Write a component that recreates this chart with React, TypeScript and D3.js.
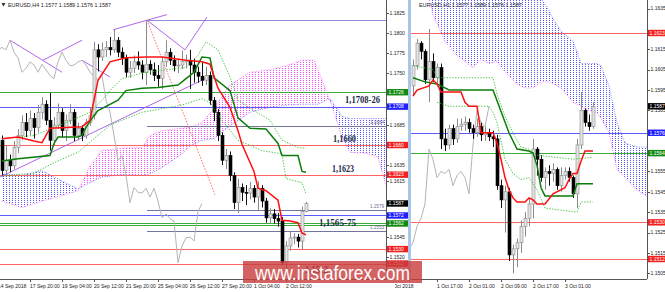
import React from "react";
import * as d3 from "d3";

// ---------------- LEFT PANEL (EURUSD, H4) ----------------
const leftTitle = "EURUSD,H4  1.1577 1.1589 1.1576 1.1587";
const leftFirstOpen = 1.1666;
const leftClose = [
  1.1628, 1.1641, 1.1634, 1.1657, 1.1672, 1.1688, 1.1678, 1.1693, 1.1682, 1.1701,
  1.1711, 1.1691, 1.1666, 1.1685, 1.1701, 1.1678, 1.1691, 1.1701, 1.1672, 1.1681,
  1.1672, 1.1688, 1.1697, 1.1779, 1.177, 1.1779, 1.1782, 1.1779, 1.1791, 1.1776,
  1.1769, 1.1751, 1.1756, 1.1764, 1.176, 1.1751, 1.1761, 1.1754, 1.1747, 1.1743,
  1.1764, 1.1776, 1.1766, 1.1759, 1.176, 1.1764, 1.1766, 1.176, 1.1751, 1.1746,
  1.1741, 1.1747, 1.1716, 1.1701, 1.1672, 1.1641, 1.1647, 1.1622, 1.1588, 1.1607,
  1.1601, 1.16, 1.1606, 1.1595, 1.1606, 1.159, 1.1569, 1.1574, 1.1568, 1.1565,
  1.1513, 1.1534, 1.1544, 1.1545, 1.154, 1.1577, 1.1587,
];
const leftHigh = [
  1.1672, 1.166, 1.1648, 1.1665, 1.168, 1.1697, 1.17, 1.1703, 1.17, 1.171,
  1.172, 1.1716, 1.1725, 1.1695, 1.1712, 1.1706, 1.1698, 1.1711, 1.1705, 1.1688,
  1.1685, 1.1693, 1.1707, 1.1789, 1.1786, 1.1788, 1.179, 1.1795, 1.1805, 1.1795,
  1.1782, 1.1773, 1.1765, 1.1772, 1.1777, 1.1766, 1.1816, 1.1766, 1.1763, 1.176,
  1.177, 1.1791, 1.1781, 1.1772, 1.1768, 1.1778, 1.1773, 1.1779, 1.1768, 1.1758,
  1.1763, 1.1758, 1.1752, 1.172, 1.1705, 1.1676, 1.1655, 1.1652, 1.1626, 1.1618,
  1.1612, 1.161, 1.1614, 1.161, 1.1615, 1.161, 1.1594, 1.1581, 1.158, 1.1575,
  1.157, 1.154, 1.1552, 1.155, 1.1549, 1.1583, 1.1589,
];
const leftLow = [
  1.1622, 1.1622, 1.1626, 1.163, 1.165, 1.1666, 1.167, 1.1672, 1.1668, 1.1676,
  1.1692, 1.1685, 1.1653, 1.166, 1.168, 1.167, 1.1665, 1.1686, 1.1665, 1.1666,
  1.1665, 1.1668, 1.1684, 1.1692, 1.1752, 1.1765, 1.177, 1.1772, 1.1775, 1.177,
  1.176, 1.1745, 1.1744, 1.175, 1.1754, 1.1742, 1.1735, 1.1748, 1.174, 1.1733,
  1.173, 1.1758, 1.176, 1.1752, 1.175, 1.1755, 1.1756, 1.173, 1.1738, 1.1738,
  1.1734, 1.1735, 1.171, 1.169, 1.1665, 1.1635, 1.163, 1.1615, 1.158, 1.1575,
  1.159, 1.1585, 1.1592, 1.1588, 1.1578, 1.1582, 1.1563, 1.1562, 1.1562, 1.1558,
  1.151, 1.1502, 1.1528, 1.1536, 1.1532, 1.153, 1.1576,
];
const leftTenkanIdx = [0, 4, 8, 10, 12, 20, 22, 23, 24, 27, 31, 36, 40, 46, 50, 52, 54, 57, 59, 60, 63, 64, 66, 69, 70, 72, 74, 75, 76];
const leftTenkanVal = [1.1668, 1.167, 1.1665, 1.1663, 1.1681, 1.1683, 1.1691, 1.1716, 1.1741, 1.1764, 1.1769, 1.177, 1.177, 1.1766, 1.1764, 1.1761, 1.1731, 1.1707, 1.1678, 1.1661, 1.1627, 1.1606, 1.1603, 1.1591, 1.1566, 1.1565, 1.1563, 1.155, 1.1548];
const leftKijunIdx = [0, 4, 12, 13, 14, 19, 20, 21, 23, 24, 29, 31, 35, 39, 44, 46, 48, 50, 52, 53, 57, 59, 62, 66, 69, 70, 74, 75, 76];
const leftKijunVal = [1.164, 1.1643, 1.1647, 1.1662, 1.167, 1.167, 1.1672, 1.1682, 1.1697, 1.1703, 1.1716, 1.1728, 1.1731, 1.1732, 1.1735, 1.1743, 1.1751, 1.177, 1.1769, 1.1744, 1.1728, 1.1694, 1.1681, 1.168, 1.1662, 1.1647, 1.1647, 1.1627, 1.1626];
const leftUpperDotIdx = [0, 8, 16, 22, 25, 27, 30, 35, 41, 46, 49, 51, 54, 57, 59, 63, 67, 70, 74, 76];
const leftUpperDotVal = [1.1668, 1.1672, 1.1688, 1.1701, 1.1716, 1.1728, 1.1743, 1.175, 1.1754, 1.1757, 1.1772, 1.1789, 1.1779, 1.1745, 1.1716, 1.1703, 1.1691, 1.1666, 1.1657, 1.1656];
const leftLowerDotIdx = [0, 8, 13, 19, 23, 27, 35, 45, 50, 52, 55, 59, 65, 70, 71, 75, 76];
const leftLowerDotVal = [1.1621, 1.1625, 1.1638, 1.1651, 1.1668, 1.1685, 1.1701, 1.171, 1.1718, 1.1713, 1.1691, 1.1666, 1.1653, 1.1649, 1.1618, 1.1613, 1.1599];
const leftCloudIdx = [0, 5, 10, 15, 19, 22, 25, 30, 35, 37, 40, 45, 47, 50, 53, 57, 62, 67, 71, 75, 78, 79, 82, 85, 87, 91, 94, 96];
const leftSpanA = [1.1624, 1.1622, 1.1628, 1.1615, 1.1605, 1.1613, 1.162, 1.1623, 1.1622, 1.1624, 1.1632, 1.1649, 1.1659, 1.1666, 1.1668, 1.1684, 1.1701, 1.1707, 1.171, 1.1711, 1.1711, 1.1711, 1.1718, 1.1696, 1.1693, 1.1693, 1.1693, 1.1693];
const leftSpanB = [1.159, 1.1582, 1.159, 1.1597, 1.1603, 1.1634, 1.1653, 1.1656, 1.1657, 1.1672, 1.1678, 1.1681, 1.1682, 1.1688, 1.1706, 1.1735, 1.1751, 1.1754, 1.1759, 1.1766, 1.1766, 1.1754, 1.1716, 1.167, 1.1651, 1.165, 1.1645, 1.1609];
const leftLevelPrice = [1.1726, 1.1708, 1.166, 1.1623, 1.1572, 1.1562, 1.156, 1.153, 1.1512];
const leftLevelKind = ["green", "blue", "red", "red", "blue", "green", "green", "red", "red"];
const leftRayStart = 36.25;
const leftRayPrice = [1.1816, 1.1684, 1.1579, 1.1553];
const leftRayLabel = ["", "1.1684", "1.1579", "1.1553"];
const leftTrendFromIdx = [2, 10.25, 20, 27.75, 36.25, 45.75, -0.5];
const leftTrendFromVal = [1.1791, 1.1766, 1.1766, 1.1804, 1.1816, 1.1779, 1.162];
const leftTrendToIdx = [15, 20, 27, 41.25, 45.75, 51.25, 51.25];
const leftTrendToVal = [1.1751, 1.1791, 1.1745, 1.1823, 1.1779, 1.182, 1.1744];
const leftFanIdx = [36.25, 53.25];
const leftFanVal = [1.1816, 1.1598];
const leftTickVals = [1.1825, 1.18, 1.1775, 1.175, 1.1685, 1.1635, 1.1615, 1.1545, 1.152];
const leftBoxPrice = [1.1726, 1.1708, 1.166, 1.1623, 1.1587, 1.1572, 1.1562, 1.153, 1.1512];
const leftBoxText = ["1.1726", "1.1708", "1.1660", "1.1623", "1.1587", "1.1572", "1.1562", "1.1530", "1.1512"];
const leftBoxKind = ["green", "blue", "red", "red", "black", "blue", "green", "red", "red"];
const leftDateIdx = [-1, 7, 15, 23, 31, 39, 47, 55, 63, 71];
const leftDateText = ["14 Sep 2018", "17 Sep 20:00", "19 Sep 04:00", "20 Sep 12:00", "21 Sep 20:00", "25 Sep 04:00", "26 Sep 12:00", "27 Sep 20:00", "1 Oct 04:00", "2 Oct 12:00"];
const noteText = ["1,1708-26", "1,1660", "1,1623", "1,1565-75", "1,1512"];
const notePrice = [1.1708, 1.166, 1.1623, 1.1572, 1.1512];
const noteBar = [85.75, 82.75, 82.5, 79.25, 75.75];

// ---------------- RIGHT PANEL (EURUSD, H1) ----------------
const rightTitle = "EURUSD,H1  1.1577 1.1589 1.1576 1.1587";
const rightFirstOpen = 1.1597;
const rightClose = [
  1.1607, 1.1618, 1.1614, 1.16, 1.1609, 1.1601, 1.1606, 1.1571, 1.1568, 1.1576,
  1.1571, 1.1577, 1.1578, 1.1579, 1.1576, 1.1574, 1.1577, 1.1573, 1.1574, 1.1572,
  1.1571, 1.1548, 1.1541, 1.1545, 1.1514, 1.1517, 1.152, 1.1528, 1.1532, 1.1539,
  1.1566, 1.1561, 1.1552, 1.1555, 1.1554, 1.1556, 1.1548, 1.1553, 1.1555, 1.1552,
  1.1544, 1.1568, 1.1585, 1.1579, 1.1577, 1.1587,
];
const rightHigh = [
  1.161, 1.162, 1.1619, 1.1615, 1.1625, 1.1613, 1.1608, 1.1608, 1.1576, 1.1578,
  1.1578, 1.1581, 1.1581, 1.1582, 1.1581, 1.1578, 1.1581, 1.1579, 1.1577, 1.1576,
  1.1575, 1.1573, 1.1551, 1.1548, 1.1547, 1.1519, 1.1522, 1.1531, 1.1535, 1.1542,
  1.1571, 1.1567, 1.1563, 1.1557, 1.1558, 1.1559, 1.1557, 1.1557, 1.1557, 1.1557,
  1.1553, 1.1571, 1.1594, 1.1586, 1.1583, 1.1589,
];
const rightLow = [
  1.1592, 1.1605, 1.161, 1.1598, 1.1589, 1.1599, 1.1598, 1.1566, 1.1565, 1.1566,
  1.1568, 1.1569, 1.1575, 1.1575, 1.1574, 1.1571, 1.1572, 1.157, 1.157, 1.157,
  1.1567, 1.1546, 1.1537, 1.1525, 1.1511, 1.1505, 1.1508, 1.1515, 1.1523, 1.1528,
  1.1532, 1.1553, 1.155, 1.1546, 1.1548, 1.155, 1.1546, 1.1545, 1.1551, 1.155,
  1.1542, 1.1537, 1.1566, 1.1577, 1.1575, 1.1576,
];
const rightTenkanIdx = [0, 1, 4, 5, 6, 7, 12, 13, 14, 16, 17, 20, 21, 22, 23, 24, 25, 26, 28, 29, 30, 31, 33, 35, 38, 39, 40, 41, 42, 43, 45];
const rightTenkanVal = [1.1592, 1.1595, 1.1597, 1.16, 1.1598, 1.1594, 1.1594, 1.1589, 1.1587, 1.1587, 1.1574, 1.1574, 1.1569, 1.1561, 1.1552, 1.1546, 1.1542, 1.154, 1.154, 1.1542, 1.1541, 1.1539, 1.1539, 1.1544, 1.1547, 1.1551, 1.1554, 1.1554, 1.156, 1.1565, 1.1565];
const rightKijunIdx = [0, 3, 6, 9, 20, 24, 26, 29, 30, 31, 32, 33, 34, 40, 41, 45];
const rightKijunVal = [1.1601, 1.1599, 1.1598, 1.1595, 1.1595, 1.1574, 1.1566, 1.1565, 1.1564, 1.1558, 1.1547, 1.1543, 1.1543, 1.1543, 1.1549, 1.1549];
const rightUpperDotIdx = [0, 5, 6, 20, 21, 23, 25, 27, 29, 31, 40, 45];
const rightUpperDotVal = [1.1607, 1.1605, 1.1601, 1.1601, 1.1593, 1.1582, 1.1574, 1.1567, 1.1566, 1.1563, 1.1561, 1.1562];
const rightLowerDotIdx = [6, 9, 19, 20, 21, 23, 25, 27, 29, 31, 33, 41, 42, 45];
const rightLowerDotVal = [1.1589, 1.1587, 1.1587, 1.1584, 1.1579, 1.1561, 1.1554, 1.1551, 1.1552, 1.1546, 1.1537, 1.1535, 1.154, 1.154];
const rightCloudIdx = [0, 2, 4, 5, 8, 11, 13, 15, 17, 19, 21, 23, 26, 28, 30, 32, 34, 35, 37, 40, 42, 44, 46, 47, 49, 51, 53, 56, 59];
const rightSpanA = [1.167, 1.1669, 1.1668, 1.1667, 1.1665, 1.1663, 1.1661, 1.166, 1.1658, 1.1657, 1.1655, 1.1654, 1.1652, 1.1651, 1.165, 1.164, 1.1634, 1.163, 1.1624, 1.1619, 1.1608, 1.1608, 1.1608, 1.1607, 1.1597, 1.1579, 1.1569, 1.1567, 1.1567];
const rightSpanB = [1.166, 1.165, 1.164, 1.1632, 1.1619, 1.1612, 1.1609, 1.1606, 1.161, 1.1608, 1.1609, 1.1604, 1.1598, 1.1596, 1.1596, 1.1599, 1.1599, 1.1598, 1.1596, 1.1589, 1.1587, 1.1585, 1.1584, 1.1581, 1.1574, 1.1556, 1.1552, 1.1546, 1.1542];
const rightLevelPrice = [1.1623, 1.1574, 1.1564, 1.153, 1.1512];
const rightLevelKind = ["red", "blue", "green", "red", "red"];
const rightTickVals = [1.1635, 1.1615, 1.1605, 1.1595, 1.1585, 1.1555, 1.1545, 1.1535, 1.1525, 1.1515, 1.1505];
const rightBoxPrice = [1.1623, 1.1587, 1.1574, 1.1564, 1.153, 1.1512];
const rightBoxText = ["1.1623", "1.1587", "1.1576", "1.1564", "1.1530", "1.1512"];
const rightBoxKind = ["red", "black", "blue", "green", "red", "red"];
const rightDateIdx = [-6, 6, 14, 22, 30, 38];
const rightDateText = ["1 Oct 2018", "1 Oct 17:00", "2 Oct 01:00", "2 Oct 09:00", "2 Oct 17:00", "3 Oct 01:00"];

// ---------------- styling ----------------
const LINE: Record<string, string> = { red: "#ff6464", green: "#3aac3a", blue: "#5b5bff" };
const BOX: Record<string, string> = { red: "#f2201e", green: "#128a12", blue: "#1f1fff", black: "#000000" };
const SANS = "'Liberation Sans', Arial, sans-serif";

type Pt = [number, number];
const zip = (a: number[], b: number[]): Pt[] => a.map((v, k) => [v, b[k]] as Pt);

function Panel({ cfg }: { cfg: any }) {
  const { id, left, right, bottom, x, y } = cfg;
  const line = d3.line<Pt>().x((d) => x(d[0])).y((d) => y(d[1]));
  const opens: number[] = cfg.close.map((c: number, k: number) => (k === 0 ? cfg.firstOpen : cfg.close[k - 1]));
  const cloudPts = cfg.cloudIdx.map((t: number, k: number) => ({ t, a: cfg.spanA[k], b: cfg.spanB[k] }));
  const belowA = d3.area<any>().x((d) => x(d.t)).y0((d) => y(d.a)).y1(1000);
  const aboveB = d3.area<any>().x((d) => x(d.t)).y0(-1000).y1((d) => y(d.b));
  const belowB = d3.area<any>().x((d) => x(d.t)).y0((d) => y(d.b)).y1(1000);
  const aboveA = d3.area<any>().x((d) => x(d.t)).y0(-1000).y1((d) => y(d.a));
  const chikou: Pt[] = cfg.close.map((c: number, k: number) => [k - 26, c] as Pt).filter((d: Pt) => d[0] >= -2);

  return (
    <g>
      <defs>
        <clipPath id={`${id}-plot`}>
          <rect x={left} y={0} width={right - left} height={bottom} />
        </clipPath>
        <clipPath id={`${id}-ca`}>
          <path d={belowA(cloudPts) || ""} />
        </clipPath>
        <clipPath id={`${id}-cb`}>
          <path d={belowB(cloudPts) || ""} />
        </clipPath>
        <clipPath id={`${id}-dates`}>
          <rect x={cfg.dateClipLeft} y={0} width={665} height={292} />
        </clipPath>
      </defs>
      <g clipPath={`url(#${id}-plot)`}>
        <path d={aboveB(cloudPts) || ""} fill="url(#dotBlue)" clipPath={`url(#${id}-ca)`} />
        <path d={aboveA(cloudPts) || ""} fill="url(#dotPink)" clipPath={`url(#${id}-cb)`} />
        <path d={line(zip(cfg.cloudIdx, cfg.spanA)) || ""} fill="none" stroke="#6b6bff" strokeWidth={0.8} strokeDasharray="1 1.4" />
        <path d={line(zip(cfg.cloudIdx, cfg.spanB)) || ""} fill="none" stroke="#ff55ff" strokeWidth={0.8} strokeDasharray="1 1.4" />

        {cfg.levelPrice.map((p: number, k: number) => (
          <line key={`lv${k}`} x1={left} x2={right} y1={Math.round(y(p)) + 0.5} y2={Math.round(y(p)) + 0.5} stroke={LINE[cfg.levelKind[k]]} strokeWidth={1} />
        ))}

        {(cfg.rayPrice || []).map((p: number, k: number) => (
          <g key={`ray${k}`}>
            <line x1={x(cfg.rayStart)} x2={right} y1={Math.round(y(p)) + 0.5} y2={Math.round(y(p)) + 0.5} stroke={k === 0 ? "#8c8cd8" : "#74749c"} strokeWidth={1} />
            {cfg.rayLabel[k] ? (
              <text x={right - 2} y={y(p) - 1.5} fontSize={4.6} fill="#6a6a90" textAnchor="end" fontFamily={SANS}>
                {cfg.rayLabel[k]}
              </text>
            ) : null}
          </g>
        ))}

        {(cfg.trendFromIdx || []).map((t: number, k: number) => (
          <line key={`tr${k}`} x1={x(t)} y1={y(cfg.trendFromVal[k])} x2={x(cfg.trendToIdx[k])} y2={y(cfg.trendToVal[k])} stroke="#b066ee" strokeWidth={1} />
        ))}
        {cfg.fanIdx ? (
          <path d={line(zip(cfg.fanIdx, cfg.fanVal)) || ""} fill="none" stroke="#ff6a6a" strokeWidth={1} strokeDasharray="1.5 1.5" />
        ) : null}

        <path d={line(chikou) || ""} fill="none" stroke="#b4b4b4" strokeWidth={1} />

        {cfg.close.map((c: number, k: number) => {
          const o = opens[k];
          const bull = c >= o;
          const cx = Math.round(x(k));
          const top = y(Math.max(o, c));
          const bot = y(Math.min(o, c));
          return (
            <g key={`c${k}`}>
              <line x1={cx + 0.5} x2={cx + 0.5} y1={y(cfg.high[k])} y2={y(cfg.low[k])} stroke={bull ? "#8a8a8a" : "#111"} strokeWidth={1} />
              <rect x={cx - 1} y={top} width={3} height={Math.max(1, bot - top)} fill={bull ? "#e4e4e4" : "#000"} stroke={bull ? "#8a8a8a" : "#000"} strokeWidth={0.6} />
            </g>
          );
        })}

        <path d={line(zip(cfg.upperDotIdx, cfg.upperDotVal)) || ""} fill="none" stroke="#2fbf2f" strokeWidth={0.9} strokeDasharray="1.3 1.5" />
        <path d={line(zip(cfg.lowerDotIdx, cfg.lowerDotVal)) || ""} fill="none" stroke="#2fbf2f" strokeWidth={0.9} strokeDasharray="1.3 1.5" />
        <path d={line(zip(cfg.kijunIdx, cfg.kijunVal)) || ""} fill="none" stroke="#0a7d0a" strokeWidth={1.5} />
        <path d={line(zip(cfg.tenkanIdx, cfg.tenkanVal)) || ""} fill="none" stroke="#ff1010" strokeWidth={1.5} />

        {(cfg.noteText || []).map((s: string, k: number) => {
          const dy = [-4, -3, -3, 10.4, 9.5][k];
          const w = [35, 23, 22, 37, 23][k];
          return (
            <text key={`n${k}`} x={x(cfg.noteBar[k])} y={y(cfg.notePrice[k]) + dy} fontSize={10.5} fontWeight="bold" fontFamily="'Liberation Serif', 'Times New Roman', serif" fill="#1c2b4a" textLength={w} lengthAdjust="spacingAndGlyphs">
              {s}
            </text>
          );
        })}
      </g>

      {/* axes */}
      <line x1={right + 0.5} x2={right + 0.5} y1={0} y2={bottom} stroke="#555" strokeWidth={1} />
      <line x1={left} x2={right} y1={bottom + 0.5} y2={bottom + 0.5} stroke="#555" strokeWidth={1} />
      {cfg.tickVals.map((p: number, k: number) => (
        <g key={`tk${k}`}>
          <line x1={right} x2={right + 3} y1={Math.round(y(p)) + 0.5} y2={Math.round(y(p)) + 0.5} stroke="#555" strokeWidth={1} />
          <text x={right + 3.5} y={y(p) + 1.8} fontSize={5} fill="#222" fontFamily={SANS}>
            {d3.format(".4f")(p)}
          </text>
        </g>
      ))}
      {cfg.boxPrice.map((p: number, k: number) => (
        <g key={`bx${k}`}>
          <rect x={right + 1} y={y(p) - 3.2} width={cfg.boxW} height={6.4} fill={BOX[cfg.boxKind[k]]} />
          <text x={right + 2.5} y={y(p) + 1.8} fontSize={5} fill="#fff" fontFamily={SANS}>
            {cfg.boxText[k]}
          </text>
        </g>
      ))}
      <g clipPath={`url(#${id}-dates)`}>
        {cfg.dateIdx.map((t: number, k: number) => (
          <g key={`dt${k}`}>
            <line x1={Math.round(x(t)) + 0.5} x2={Math.round(x(t)) + 0.5} y1={bottom} y2={bottom + 3} stroke="#555" strokeWidth={1} />
            <text x={x(t)} y={287.5} fontSize={5} fill="#222" fontFamily={SANS}>
              {cfg.dateText[k]}
            </text>
          </g>
        ))}
      </g>
      <text x={left + 8} y={7} fontSize={5.4} fill="#222" fontFamily={SANS}>
        {cfg.title}
      </text>
    </g>
  );
}

export default function App() {
  const bottom = 279;
  const xL = d3.scaleLinear().domain([0, 76]).range([2, 306]);
  const yL = d3.scaleLinear().domain([1.1512, 1.1825]).range([263.5, 13]);
  const xR = d3.scaleLinear().domain([0, 45]).range([413, 593]);
  const yR = d3.scaleLinear().domain([1.1512, 1.1623]).range([259, 33]);

  const leftCfg = {
    id: "L", left: 0, right: 386, bottom, x: xL, y: yL, title: leftTitle,
    firstOpen: leftFirstOpen, close: leftClose, high: leftHigh, low: leftLow,
    tenkanIdx: leftTenkanIdx, tenkanVal: leftTenkanVal, kijunIdx: leftKijunIdx, kijunVal: leftKijunVal,
    upperDotIdx: leftUpperDotIdx, upperDotVal: leftUpperDotVal, lowerDotIdx: leftLowerDotIdx, lowerDotVal: leftLowerDotVal,
    cloudIdx: leftCloudIdx, spanA: leftSpanA, spanB: leftSpanB,
    levelPrice: leftLevelPrice, levelKind: leftLevelKind,
    rayStart: leftRayStart, rayPrice: leftRayPrice, rayLabel: leftRayLabel,
    trendFromIdx: leftTrendFromIdx, trendFromVal: leftTrendFromVal, trendToIdx: leftTrendToIdx, trendToVal: leftTrendToVal,
    fanIdx: leftFanIdx, fanVal: leftFanVal,
    tickVals: leftTickVals, boxPrice: leftBoxPrice, boxText: leftBoxText, boxKind: leftBoxKind, boxW: 21,
    dateIdx: leftDateIdx, dateText: leftDateText, dateClipLeft: 0,
    noteText, notePrice, noteBar,
  };
  const rightCfg = {
    id: "R", left: 411, right: 647, bottom, x: xR, y: yR, title: rightTitle,
    firstOpen: rightFirstOpen, close: rightClose, high: rightHigh, low: rightLow,
    tenkanIdx: rightTenkanIdx, tenkanVal: rightTenkanVal, kijunIdx: rightKijunIdx, kijunVal: rightKijunVal,
    upperDotIdx: rightUpperDotIdx, upperDotVal: rightUpperDotVal, lowerDotIdx: rightLowerDotIdx, lowerDotVal: rightLowerDotVal,
    cloudIdx: rightCloudIdx, spanA: rightSpanA, spanB: rightSpanB,
    levelPrice: rightLevelPrice, levelKind: rightLevelKind,
    tickVals: rightTickVals, boxPrice: rightBoxPrice, boxText: rightBoxText, boxKind: rightBoxKind, boxW: 18,
    dateIdx: rightDateIdx, dateText: rightDateText, dateClipLeft: 395,
  };

  return (
    <svg width={665} height={292} viewBox="0 0 665 292" style={{ position: "absolute", left: 0, top: 0, background: "#fff" }}>
      <defs>
        <pattern id="dotPink" width={3} height={2} patternUnits="userSpaceOnUse">
          <rect x={0} y={0} width={1} height={1} fill="#ff4dff" />
        </pattern>
        <pattern id="dotBlue" width={3} height={2} patternUnits="userSpaceOnUse">
          <rect x={0} y={0} width={1} height={1} fill="#5858ff" />
        </pattern>
      </defs>
      <rect x={0} y={0} width={665} height={292} fill="#fff" />
      <Panel cfg={leftCfg} />
      <path d="M1.5,3 L5.5,3 L3.5,6.5 Z" fill="#333" />
      <Panel cfg={rightCfg} />
      <rect x={408} y={0} width={3} height={281} fill="#a9c6e8" />
      <rect x={243} y={261} width={179} height={22} fill="#c83c3c" opacity={0.8} />
      <text x={255} y={280} fontSize={20} fill="#fff" fontFamily={SANS} textLength={155} lengthAdjust="spacingAndGlyphs">
        www.instaforex.com
      </text>
    </svg>
  );
}
